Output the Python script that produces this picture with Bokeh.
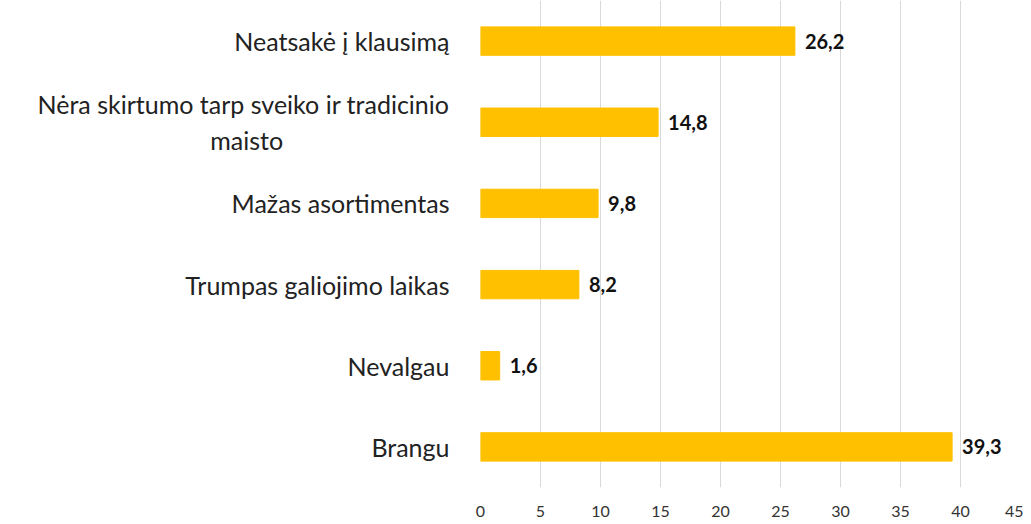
from bokeh.plotting import figure
from bokeh.models import ColumnDataSource, FixedTicker
from bokeh.core.properties import value
from bokeh.embed import file_html
from bokeh.resources import INLINE

categories = ["Brangu", "Nevalgau", "Trumpas galiojimo laikas", "Mažas asortimentas",
              "Nėra skirtumo tarp sveiko ir tradicinio\nmaisto", "Neatsakė į klausimą"]
values = [39.3, 1.6, 8.2, 9.8, 14.8, 26.2]
labels = ["39,3", "1,6", "8,2", "9,8", "14,8", "26,2"]
x_ticks = [0, 5, 10, 15, 20, 25, 30, 35, 40, 45]

pos = list(range(len(categories)))
src = ColumnDataSource(dict(pos=pos, cat=categories, val=values, lab=labels))

p = figure(y_range=(-0.5, len(categories) - 0.5), x_range=(0, 45), width=1023, height=522,
           output_backend="svg", toolbar_location=None,
           min_border_left=480, min_border_right=3, min_border_top=0, min_border_bottom=35)
p.hbar(y="pos", right="val", height=0.35, source=src, color="#FFC000", line_color="#FFC000")
p.text(x="val", y="pos", text="lab", source=src, x_offset=10, text_baseline="middle",
       text_font=value("Lato"), text_font_style="bold", text_font_size="20px", text_color="#111111")

p.outline_line_color = None
p.ygrid.grid_line_color = None
p.xgrid.grid_line_color = "#d9d9d9"
p.xaxis.ticker = FixedTicker(ticks=x_ticks)
p.xaxis.axis_line_color = None
p.xaxis.major_tick_line_color = None
p.xaxis.minor_tick_line_color = None
p.xaxis.major_label_text_font = "Lato"
p.xaxis.major_label_text_font_size = "16px"
p.xaxis.major_label_text_color = "#333333"
p.xaxis.major_label_standoff = 12

# centre the short second line of a wrapped label (axis lines are right-aligned)
def centred(label):
    if "\n" not in label:
        return label
    first, second = label.split("\n")
    return first + "\n" + second + "\u00a0" * 26

p.yaxis.ticker = FixedTicker(ticks=pos)
p.yaxis.major_label_overrides = {i: centred(c) for i, c in zip(pos, categories)}
p.yaxis.axis_line_color = None
p.yaxis.major_tick_line_color = None
p.yaxis.minor_tick_line_color = None
p.yaxis.major_label_text_font = "Lato"
p.yaxis.major_label_text_font_size = "25px"
p.yaxis.major_label_text_color = "#222222"
p.yaxis.major_label_standoff = 25

open("out.html", "w").write(file_html(p, INLINE))
